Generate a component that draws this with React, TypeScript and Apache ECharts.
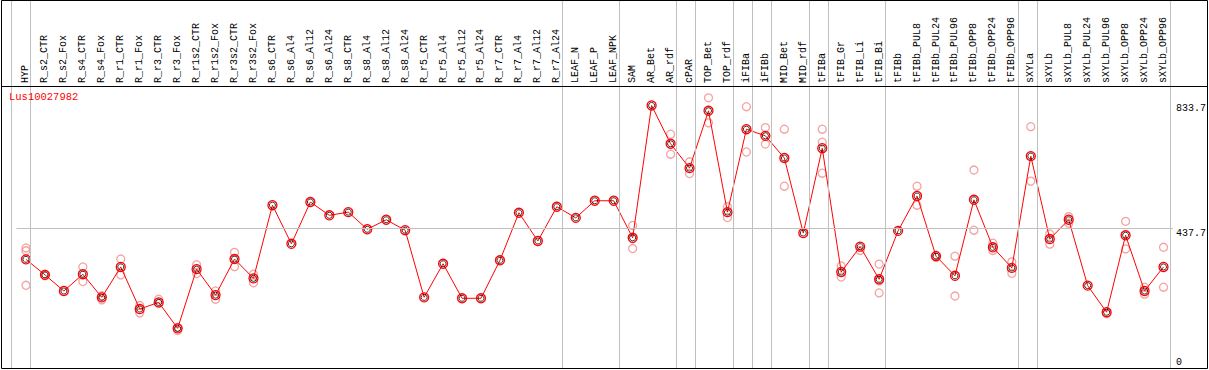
import React, { useEffect, useRef } from "react";
import * as echarts from "echarts";

const categories = [
  "HYP", "R_s2_CTR", "R_s2_Fox", "R_s4_CTR", "R_s4_Fox", "R_r1_CTR", "R_r1_Fox", "R_r3_CTR", "R_r3_Fox",
  "R_r1s2_CTR", "R_r1s2_Fox", "R_r3s2_CTR", "R_r3s2_Fox", "R_s6_CTR", "R_s6_Al4", "R_s6_Al12", "R_s6_Al24",
  "R_s8_CTR", "R_s8_Al4", "R_s8_Al12", "R_s8_Al24", "R_r5_CTR", "R_r5_Al4", "R_r5_Al12", "R_r5_Al24",
  "R_r7_CTR", "R_r7_Al4", "R_r7_Al12", "R_r7_Al24", "LEAF_N", "LEAF_P", "LEAF_NPK", "SAM", "AR_Bet", "AR_rdf",
  "cPAR", "TOP_Bet", "TOP_rdf", "iFIBa", "iFIBb", "MID_Bet", "MID_rdf", "tFIBa", "tFIB_Gr", "tFIB_Li", "tFIB_Bi",
  "tFIBb", "tFIBb_PUL8", "tFIBb_PUL24", "tFIBb_PUL96", "tFIBb_OPP8", "tFIBb_OPP24", "tFIBb_OPP96", "sXYLa",
  "sXYLb", "sXYLb_PUL8", "sXYLb_PUL24", "sXYLb_PUL96", "sXYLb_OPP8", "sXYLb_OPP24", "sXYLb_OPP96",
];

const means = [
  340, 291, 240, 293, 220, 316, 183, 204, 122, 309, 227, 341, 280, 511, 389, 521, 479, 489, 435, 465, 432,
  220, 326, 217, 217, 337, 487, 398, 506, 471, 525, 525, 408, 826, 705, 628, 809, 489, 751, 730, 660, 423,
  691, 300, 380, 277, 430, 540, 350, 288, 528, 378, 313, 666, 404, 465, 257, 173, 416, 240, 316,
];

const replicates: number[][] = [
  [376, 367, 258], [293, 288], [], [316, 270], [225, 212], [341, 291], [194, 171], [214, 201], [125, 115],
  [323, 295], [240, 214], [362, 317], [293, 266], [], [], [], [], [], [], [], [], [], [], [], [], [], [], [], [],
  [], [], [], [447, 405, 374], [], [735, 672], [648, 611], [850, 771], [506, 472], [822, 679], [756, 704],
  [751, 571], [], [751, 710, 612], [319, 284], [368], [325, 272, 234], [], [571, 511], [353, 347], [350, 224],
  [622, 432], [391, 368], [332, 296], [759, 587], [420, 388], [475, 454], [], [168], [460, 373], [252, 230],
  [378, 252],
];

// category indices after which a group separator is drawn
const groupEnds = [-1, 0, 28, 31, 34, 35, 37, 38, 39, 41, 42, 45, 52, 53, 60];

const yLabelValues = [0, 437.7, 833.7];
const yMax = 875.4;
const yGrid = 437.7;
const title = "Lus10027982";

const MONO = "'Liberation Mono', 'DejaVu Sans Mono', monospace";

export default function App() {
  const ref = useRef<HTMLDivElement>(null);
  useEffect(() => {
    if (!ref.current) return;
    const chart = echarts.init(ref.current, null, { renderer: "svg" });
    const repData: number[][] = [];
    replicates.forEach((arr, i) => arr.forEach((v) => repData.push([i, v])));

    const n = categories.length;
    const gridLeft = 16.5;
    const gridWidth = 19 * n;
    const step = gridWidth / n;
    const vMin = -0.5 - gridLeft / step;
    const vMax = -0.5 + (1209 - gridLeft) / step;

    chart.setOption({
      animation: false,
      backgroundColor: "#fff",
      title: {
        text: title,
        left: 9,
        top: 91,
        padding: 0,
        textStyle: { color: "#ff0000", fontSize: 10.5, fontWeight: "normal", fontFamily: MONO },
      },
      grid: [
        { left: gridLeft, width: gridWidth, top: 89.8, height: 277.2 },
        { left: 0, width: 1209, top: 0, height: 368.5 },
      ],
      xAxis: [
        {
          type: "category",
          gridIndex: 0,
          position: "top",
          offset: 3.8,
          data: categories,
          boundaryGap: true,
          axisLine: { show: false },
          axisTick: { show: false },
          splitLine: { show: false },
          axisLabel: {
            rotate: 90,
            interval: 0,
            margin: 3,
            color: "#000",
            fontSize: 10,
            fontFamily: MONO,
          },
        },
        { type: "value", gridIndex: 1, min: vMin, max: vMax, show: false },
      ],
      yAxis: [
        {
          type: "value",
          gridIndex: 0,
          position: "right",
          min: 0,
          max: yMax,
          interval: yGrid,
          axisLine: { show: false },
          axisTick: { show: false },
          splitLine: { show: false },
          axisLabel: {
            customValues: yLabelValues,
            margin: 3,
            verticalAlign: "top",
            verticalAlignMinLabel: "bottom",
            color: "#000",
            fontSize: 10,
            fontFamily: MONO,
          },
        },
        { type: "value", gridIndex: 1, min: 0, max: 1, show: false },
      ],
      series: [
        {
          type: "line",
          xAxisIndex: 1,
          yAxisIndex: 1,
          data: [[0, -1]],
          showSymbol: false,
          lineStyle: { opacity: 0 },
          silent: true,
          z: 1,
          markLine: {
            silent: true,
            symbol: "none",
            label: { show: false },
            lineStyle: { color: "#c0c0c0", type: "solid", width: 1 },
            data: groupEnds.map((g) => ({ xAxis: g + 0.23 })),
          },
        },
        {
          type: "scatter",
          xAxisIndex: 0,
          yAxisIndex: 0,
          data: repData,
          symbol: "circle",
          symbolSize: 8,
          itemStyle: { color: "rgba(0,0,0,0)", borderColor: "#f08c8c", borderWidth: 1.3 },
          z: 2,
          markLine: {
            silent: true,
            symbol: "none",
            label: { show: false },
            lineStyle: { color: "#c0c0c0", type: "solid", width: 1 },
            data: [{ yAxis: yGrid }],
          },
        },
        {
          type: "line",
          xAxisIndex: 0,
          yAxisIndex: 0,
          data: means,
          symbol: "circle",
          symbolSize: 9,
          lineStyle: { color: "#ff0000", width: 1 },
          itemStyle: { color: "rgba(0,0,0,0)", borderColor: "#ff0000", borderWidth: 1.3 },
          z: 3,
        },
        {
          type: "scatter",
          xAxisIndex: 0,
          yAxisIndex: 0,
          data: means,
          symbol: "circle",
          symbolSize: 6,
          itemStyle: { color: "rgba(0,0,0,0)", borderColor: "#000", borderWidth: 1 },
          z: 4,
        },
      ],
      graphic: [
        {
          type: "rect",
          shape: { x: 1.5, y: 0.5, width: 1206, height: 368 },
          style: { fill: "none", stroke: "#000", lineWidth: 1 },
          z: 10,
        },
        {
          type: "line",
          shape: { x1: 1.5, y1: 86.5, x2: 1207.5, y2: 86.5 },
          style: { stroke: "#000", lineWidth: 1 },
          z: 10,
        },
      ],
    });
    return () => chart.dispose();
  }, []);
  return (
    <div
      ref={ref}
      style={{ position: "fixed", left: 0, top: 0, width: 1209, height: 370 }}
    />
  );
}
